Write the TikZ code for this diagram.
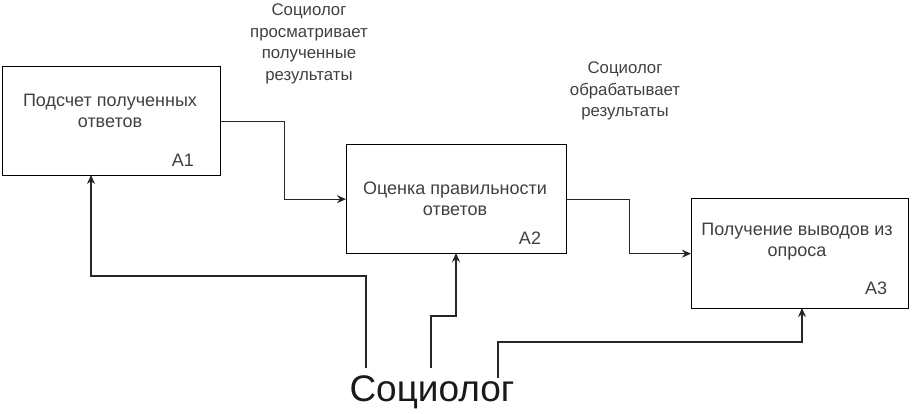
\documentclass[tikz,border=0pt]{standalone}
\usepackage{fontspec}
\setmainfont{Liberation Sans}
\usetikzlibrary{arrows.meta}
\begin{document}
\begin{tikzpicture}[x=1pt,y=-1pt,
  box/.style={draw=black,line width=1.3pt,anchor=north west,minimum width=218pt,minimum height=109pt,inner sep=0pt},
  txt/.style={align=center,font=\fontsize{18}{21}\selectfont,text=black!75},
  lbl/.style={align=center,font=\fontsize{16.8}{21.5}\selectfont,text=black!75},
  code/.style={font=\fontsize{18}{20}\selectfont,text=black!75},
  arr/.style={draw=black!85,line width=1.3pt,-{Stealth[length=9pt,width=8pt]}}]
\useasboundingbox (0,0) rectangle (913,413);
% boxes
\node[box] (a1) at (2,66) {};
\node[box,minimum width=220pt] (a2) at (346,144) {};
\node[box,minimum width=217pt,minimum height=110pt] (a3) at (691,198) {};
% box texts
\node[txt] (t1) at (110,111) {Подсчет полученных\\ответов};
\node[code] (c1) at (183,160) {A1};
\node[txt] (t2) at (455,199) {Оценка правильности\\ответов};
\node[code] (c2) at (530,238) {A2};
\node[txt] (t3) at (797,242) {Получение выводов из\\опроса};
\node[code] (c3) at (876,288) {A3};
% labels
\node[lbl] (l1) at (309,44) {Социолог\\просматривает\\полученные\\результаты};
\node[lbl] (l2) at (625,91) {Социолог\\обрабатывает\\результаты};
% mechanism
\node[font=\fontsize{37}{42}\selectfont,text=black!90] (soc) at (432,392) {Социолог};
\coordinate (s1) at (366,368);
\coordinate (s2) at (431,368);
\coordinate (s3) at (498,378);
\coordinate (e1) at (91,175);
\coordinate (e2) at (456,253);
\coordinate (e3) at (802,308);
% connectors
\draw[arr] (a1.east) -- ++(63,0) |- (a2.west);
\draw[arr] (a2.east) -- ++(62,0) |- (a3.west);
\draw[arr] (s1) -- (366,276) -| (e1);
\draw[arr] (s2) -- (431,316) -| (e2);
\draw[arr] (s3) -- (498,342) -| (e3);
\end{tikzpicture}
\end{document}
